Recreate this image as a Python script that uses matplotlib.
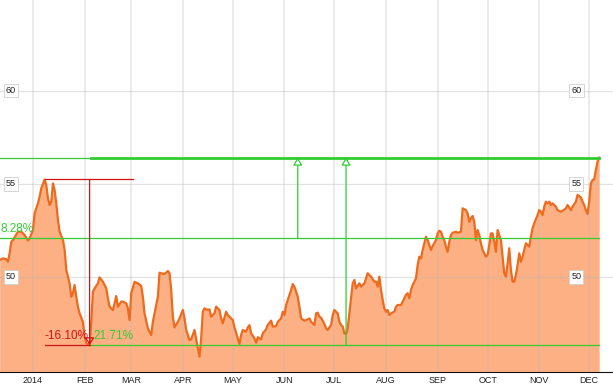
import numpy as np
import matplotlib
matplotlib.use('Agg')
import matplotlib.pyplot as plt
import matplotlib.dates as mdates
import matplotlib.transforms as mtransforms

plt.rcParams['font.family'] = ['Liberation Sans', 'DejaVu Sans']

# ── Data ──────────────────────────────────────────────────────────────────────

START = np.datetime64('2014-01-01')

# calendar days after 1 Jan 2014 (negative = Dec 2013)
days = [
    -20, -18, -16, -15, -14, -13, -12, -9, -7, -5, -3, -2, 0, 1, 3, 4, 5, 7, 8, 9,
    10, 11, 12, 13, 14, 15, 16, 18, 19, 20, 22, 23, 24, 25, 26, 27, 28, 30, 31, 32,
    34, 35, 36, 37, 39, 40, 42, 44, 45, 46, 48, 49, 50, 51, 53, 54, 56, 57, 58, 59,
    61, 63, 65, 66, 67, 69, 71, 72, 73, 75, 76, 77, 79, 81, 82, 83, 84, 85, 87, 88,
    90, 91, 92, 94, 95, 97, 98, 99, 100, 101, 102, 103, 105, 106, 107, 109, 110, 112, 113, 114,
    116, 117, 119, 120, 121, 123, 124, 125, 126, 128, 129, 130, 131, 133, 134, 135, 137, 138, 140, 141,
    143, 144, 146, 147, 149, 150, 151, 152, 153, 155, 156, 157, 159, 160, 161, 163, 164, 166, 167, 169,
    170, 171, 172, 173, 175, 176, 177, 179, 180, 181, 183, 184, 185, 186, 187, 188, 189, 191, 192, 193,
    194, 196, 197, 199, 201, 202, 203, 205, 206, 207, 208, 209, 210, 211, 212, 213, 214, 215, 217, 218,
    219, 221, 222, 224, 225, 226, 227, 228, 229, 230, 231, 232, 233, 234, 235, 236, 237, 238, 239, 240,
    242, 243, 244, 245, 246, 247, 248, 249, 250, 251, 252, 254, 255, 257, 258, 260, 261, 262, 263, 264,
    265, 266, 267, 268, 269, 270, 272, 273, 274, 275, 276, 277, 278, 279, 280, 281, 282, 283, 284, 285,
    286, 287, 288, 289, 290, 291, 292, 293, 294, 295, 296, 298, 299, 300, 301, 303, 304, 305, 306, 307,
    308, 309, 310, 311, 312, 314, 315, 317, 318, 320, 321, 323, 324, 326, 327, 329, 330, 331, 332, 333,
    334, 335, 336, 337, 338, 339, 340,
]

price = [
    50.91, 51.00, 50.95, 50.82, 51.29, 51.89, 51.98, 52.43, 52.43, 52.25, 51.95, 52.08, 52.52, 53.42, 53.95, 54.31, 54.76, 55.23, 54.93, 54.22,
    53.86, 54.04, 55.02, 54.66, 53.95, 53.06, 52.43, 51.98, 51.45, 50.38, 49.66, 48.94, 49.13, 49.57, 48.94, 48.41, 48.05, 47.60, 46.80, 46.45,
    46.34, 47.60, 49.21, 49.39, 49.66, 49.98, 49.75, 49.39, 48.86, 48.41, 48.23, 48.59, 48.98, 48.41, 48.68, 48.68, 48.59, 48.32, 47.69, 49.13,
    49.74, 49.66, 49.52, 48.94, 48.05, 47.25, 46.89, 47.60, 48.05, 48.94, 50.23, 50.20, 50.16, 50.32, 50.20, 49.30, 47.87, 47.30, 47.60, 47.78,
    48.23, 47.78, 47.16, 46.62, 46.66, 47.16, 46.66, 46.18, 45.73, 46.71, 48.14, 48.32, 48.23, 48.27, 47.87, 48.05, 48.41, 48.23, 47.78, 47.52,
    48.14, 47.96, 47.78, 47.69, 47.30, 46.71, 46.41, 46.89, 47.16, 47.07, 47.30, 47.42, 46.98, 46.71, 46.48, 46.77, 46.66, 46.98, 47.20, 47.43,
    47.66, 47.34, 47.37, 47.60, 47.78, 48.14, 47.96, 48.50, 48.77, 49.30, 49.62, 49.48, 48.94, 48.41, 47.78, 47.66, 47.69, 47.78, 47.60, 47.43,
    48.05, 48.09, 47.87, 47.82, 47.48, 47.25, 47.16, 47.43, 47.96, 48.23, 48.05, 47.60, 47.43, 47.34, 46.98, 46.94, 47.25, 48.86, 49.66, 49.84,
    49.39, 49.66, 49.48, 49.66, 50.20, 50.11, 50.02, 49.75, 49.75, 49.48, 50.02, 49.30, 48.77, 48.32, 48.14, 48.23, 47.96, 48.05, 48.14, 48.41,
    48.50, 48.50, 48.68, 49.04, 49.13, 48.86, 49.30, 49.57, 49.75, 49.93, 50.64, 51.09, 51.00, 51.45, 51.81, 52.16, 51.98, 51.72, 51.45, 51.66,
    51.98, 52.34, 52.48, 52.43, 52.16, 51.98, 51.63, 51.35, 51.89, 52.25, 52.37, 52.43, 52.37, 52.43, 53.68, 53.59, 53.41, 52.96, 53.15, 53.27,
    52.96, 51.98, 52.52, 52.25, 51.81, 51.45, 51.09, 51.18, 51.72, 52.34, 52.34, 51.89, 51.35, 52.52, 52.25, 51.98, 51.09, 50.20, 50.02, 50.73,
    51.54, 50.38, 49.75, 49.75, 50.11, 50.64, 51.27, 50.82, 51.09, 51.45, 51.81, 51.63, 52.16, 52.61, 52.88, 53.32, 53.59, 53.50, 53.32, 53.77,
    54.04, 53.95, 54.04, 53.86, 53.95, 53.77, 53.59, 53.50, 53.55, 53.68, 53.86, 53.59, 53.77, 54.04, 54.40, 54.27, 54.04, 53.86, 53.59, 53.38,
    54.04, 55.02, 55.20, 55.24, 55.74, 56.18, 56.40,
]

# drawdown / recovery levels
peak_day, peak = 7, 55.23
trough_day, trough = 34, 46.34
last_day, last = 340, 56.40
ref_level = 52.09
red_stop_day = 60
arrow_days = [159, 188]            # first from ref_level, second from trough

drop_label = '-16.10%'
rise_label = '21.71%'
ref_label = '8.28%'

month_starts = ['2014-01-01', '2014-02-01', '2014-03-01', '2014-04-01', '2014-05-01', '2014-06-01',
                '2014-07-01', '2014-08-01', '2014-09-01', '2014-10-01', '2014-11-01', '2014-12-01']
month_labels = ['2014', 'FEB', 'MAR', 'APR', 'MAY', 'JUN', 'JUL', 'AUG', 'SEP', 'OCT', 'NOV', 'DEC']
y_ticks = [50, 55, 60]

# ── Style ─────────────────────────────────────────────────────────────────────

LINE = '#EE6A1C'
FILL = '#FCB084'
GREEN = '#33CC33'
RED = '#D01414'
GRID = '#b8b8b8'

# ── Plot ──────────────────────────────────────────────────────────────────────

base = mdates.date2num(START)
t = base + np.array(days, dtype=float)

def dx(d):
    return base + d

fig = plt.figure(figsize=(6.13, 3.87), dpi=100)
ax = fig.add_axes([0, 15 / 387, 1, 372 / 387])

ax.set_xlim(base - 19.8, base + 348.3)
ax.set_ylim(44.906, 64.853)

ax.fill_between(t, price, 40, color=FILL, lw=0, zorder=1)
ax.plot(t, price, color=LINE, lw=1.6, zorder=3, solid_joinstyle='round')

ticks = mdates.date2num(np.array(month_starts, dtype='datetime64[D]'))
for x in ticks:
    ax.axvline(x, color=GRID, lw=1.3, alpha=0.3, zorder=2)
for y in y_ticks:
    ax.axhline(y, color=GRID, lw=0.9, alpha=0.4, zorder=2)

# green reference lines
ax.plot([base - 19.8, dx(last_day)], [last, last], color=GREEN, lw=0.9, zorder=4)
ax.plot([dx(trough_day + 1), dx(last_day)], [last, last], color=GREEN, lw=2.0, zorder=4)
ax.plot([base - 19.8, dx(last_day)], [ref_level, ref_level], color=GREEN, lw=0.9, zorder=4)
ax.plot([dx(trough_day), dx(last_day)], [trough, trough], color=GREEN, lw=0.9, zorder=4)

head = '-|>,head_length=0.45,head_width=0.28'
for d, lo in zip(arrow_days, [ref_level, trough]):
    ax.annotate('', xy=(dx(d), last), xytext=(dx(d), lo),
                arrowprops=dict(arrowstyle=head, color=GREEN, fc='white', lw=0.9,
                                shrinkA=0, shrinkB=0), zorder=5)

# red drawdown
ax.plot([dx(peak_day), dx(red_stop_day)], [peak, peak], color=RED, lw=0.9, zorder=4)
ax.plot([dx(peak_day), dx(trough_day)], [trough, trough], color=RED, lw=0.9, zorder=4)
ax.annotate('', xy=(dx(trough_day), trough), xytext=(dx(trough_day), peak),
            arrowprops=dict(arrowstyle=head, color=RED, fc='none', lw=0.9,
                            shrinkA=0, shrinkB=0), zorder=5)

ax.annotate(drop_label, xy=(dx(peak_day), trough), xytext=(0, 4.5), textcoords='offset points',
            color=RED, fontsize=8.5, ha='left', va='baseline', zorder=6)
ax.annotate(rise_label, xy=(dx(trough_day), trough), xytext=(2.5, 4.5), textcoords='offset points',
            color=GREEN, fontsize=8.5, ha='left', va='baseline', zorder=6)
ax.annotate(ref_label, xy=(0, ref_level), xycoords=('axes fraction', 'data'),
            xytext=(0.5, 4), textcoords='offset points',
            color=GREEN, fontsize=8.5, ha='left', va='baseline', zorder=6)

# boxed price labels on both sides
trans = mtransforms.blended_transform_factory(ax.transAxes, ax.transData)
for y in y_ticks:
    for xf in (0.018, 0.94):
        ax.text(xf, y, str(y), transform=trans, fontsize=6.5, color='#222222',
                ha='center', va='center', zorder=7,
                bbox=dict(boxstyle='square,pad=0.25', fc='white', ec='#cfcfcf', lw=0.6))

ax.set_xticks(ticks)
ax.set_xticklabels(month_labels, fontsize=6.5, color='#222222')
ax.tick_params(axis='x', length=0, pad=3)
ax.set_yticks([])
for side in ('top', 'left', 'right'):
    ax.spines[side].set_visible(False)
ax.spines['bottom'].set_color('#111111')
ax.spines['bottom'].set_linewidth(0.8)

fig.savefig('out.png', dpi=100)
